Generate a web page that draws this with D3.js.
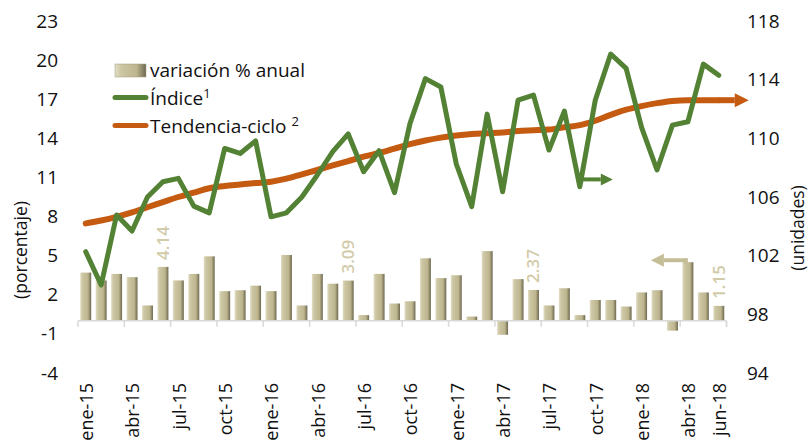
<!DOCTYPE html>
<html>
<head>
<meta charset="utf-8">
<script src="https://cdn.jsdelivr.net/npm/d3@7"></script>
<style>
  body { margin: 0; background: #fff; }
  svg { font-family: "Open Sans", Lato, sans-serif; }
</style>
</head>
<body>
<div id="chart"></div>
<script>
(function(){

var months = ["ene-15","feb-15","mar-15","abr-15","may-15","jun-15","jul-15","ago-15","sep-15","oct-15","nov-15","dic-15",
              "ene-16","feb-16","mar-16","abr-16","may-16","jun-16","jul-16","ago-16","sep-16","oct-16","nov-16","dic-16",
              "ene-17","feb-17","mar-17","abr-17","may-17","jun-17","jul-17","ago-17","sep-17","oct-17","nov-17","dic-17",
              "ene-18","feb-18","mar-18","abr-18","may-18","jun-18"];

// variación % anual (eje izquierdo)
var variacion = [3.7, 3.1, 3.6, 3.35, 1.18, 4.14, 3.1, 3.6, 4.95, 2.28, 2.35, 2.7,
                 2.28, 5.05, 1.18, 3.6, 2.85, 3.09, 0.44, 3.6, 1.33, 1.5, 4.8, 3.28,
                 3.5, 0.33, 5.35, -1.07, 3.2, 2.37, 1.18, 2.5, 0.44, 1.6, 1.6, 1.1,
                 2.18, 2.35, -0.75, 4.5, 2.18, 1.15];

// Índice (eje derecho)
var indice = [102.27, 100.0, 104.77, 103.68, 106.0, 107.04, 107.27, 105.38, 104.92, 109.31, 108.97, 109.83,
              104.65, 104.92, 106.0, 107.5, 109.1, 110.3, 107.72, 109.16, 106.3, 111.0, 114.07, 113.5,
              108.25, 105.34, 111.65, 106.36, 112.6, 112.95, 109.2, 111.86, 106.7, 112.6, 115.75, 114.77,
              110.75, 107.84, 110.9, 111.13, 115.06, 114.3];

// Tendencia-ciclo (eje derecho)
var tendencia = [104.2, 104.4, 104.65, 104.95, 105.3, 105.65, 106.0, 106.3, 106.6, 106.75, 106.85, 106.95,
                 107.04, 107.25, 107.55, 107.84, 108.15, 108.45, 108.75, 109.0, 109.3, 109.6, 109.85, 110.05,
                 110.2, 110.3, 110.35, 110.4, 110.5, 110.55, 110.6, 110.75, 110.9, 111.2, 111.6, 111.95,
                 112.2, 112.4, 112.55, 112.6, 112.6, 112.6];

var leftTicks = [-4, -1, 2, 5, 8, 11, 14, 17, 20, 23];
var rightTicks = [94, 98, 102, 106, 110, 114, 118];
var xLabels = ["ene-15","abr-15","jul-15","oct-15","ene-16","abr-16","jul-16","oct-16","ene-17","abr-17","jul-17","oct-17","ene-18","abr-18","jun-18"];
var labeled = ["jun-15","jun-16","jun-17","jun-18"];

var W = 812, H = 443;
var green = "#548235", orange = "#c55a11", tan = "#c4bd97";
var fs = 19;
var fmt = function(d) { return String(d); };

var svg = d3.select("#chart").append("svg")
    .attr("width", W).attr("height", H);

var defs = svg.append("defs");
var grad = defs.append("linearGradient").attr("id", "barGrad")
    .attr("x1", "0").attr("x2", "1").attr("y1", "0").attr("y2", "0");
grad.append("stop").attr("offset", "0%").attr("stop-color", "#e2dec6");
grad.append("stop").attr("offset", "20%").attr("stop-color", "#cdc6a3");
grad.append("stop").attr("offset", "70%").attr("stop-color", "#bcb58e");
grad.append("stop").attr("offset", "100%").attr("stop-color", "#6e6850");

var x = d3.scaleBand().domain(months).range([78, 726.5])
    .paddingInner(0.29).paddingOuter(0.145);
var xc = function(m) { return x(m) + x.bandwidth() / 2; };

var yL = d3.scaleLinear().domain([-4, 23]).range([373, 21]);
var yR = d3.scaleLinear().domain([94, 118]).range([373, 21]);

// left axis
var axL = svg.append("g").attr("transform", "translate(58,0)")
    .call(d3.axisLeft(yL).tickValues(leftTicks).tickFormat(fmt).tickSize(0).tickPadding(0));
axL.select(".domain").remove();
axL.selectAll("text").attr("font-size", fs).attr("fill", "#111").attr("font-family", "Open Sans");

// right axis
var axR = svg.append("g").attr("transform", "translate(747,0)")
    .call(d3.axisRight(yR).tickValues(rightTicks).tickFormat(fmt).tickSize(0).tickPadding(0));
axR.select(".domain").remove();
axR.selectAll("text").attr("font-size", fs).attr("fill", "#111").attr("font-family", "Open Sans");

// axis titles
svg.append("text").attr("transform", "translate(27,250) rotate(-90)")
    .attr("text-anchor", "middle").attr("font-size", 17.5).attr("fill", "#111")
    .text("(porcentaje)");
svg.append("text").attr("transform", "translate(804,228) rotate(-90)")
    .attr("text-anchor", "middle").attr("font-size", 17.5).attr("fill", "#111")
    .text("(unidades)");

// bars
svg.append("g").selectAll("rect")
    .data(variacion)
    .enter().append("rect")
      .attr("x", function(d, i) { return x(months[i]); })
      .attr("y", function(d) { return yL(Math.max(0, d)); })
      .attr("width", x.bandwidth())
      .attr("height", function(d) { return Math.abs(yL(d) - yL(0)); })
      .attr("fill", "url(#barGrad)");

// category baseline and ticks
var zeroY = yL(0);
svg.append("line").attr("x1", 78).attr("x2", 726.5).attr("y1", zeroY).attr("y2", zeroY)
    .attr("stroke", "#d9d9d9").attr("stroke-width", 1.5);
var tickIdx = d3.range(0, 43, 3).concat([42]);
svg.append("g").selectAll("line").data(tickIdx).enter().append("line")
    .attr("x1", function(i) { return 78 + i * x.step(); })
    .attr("x2", function(i) { return 78 + i * x.step(); })
    .attr("y1", zeroY).attr("y2", zeroY + 6)
    .attr("stroke", "#d9d9d9").attr("stroke-width", 1.5);

// x labels
svg.append("g").selectAll("text").data(xLabels).enter().append("text")
    .attr("transform", function(d) { return "translate(" + (xc(d) + 1) + ",383) rotate(-90)"; })
    .attr("text-anchor", "end").attr("dy", "0.35em")
    .attr("font-size", 18).attr("fill", "#111")
    .text(function(d) { return d; });

// value labels
svg.append("g").selectAll("text").data(labeled).enter().append("text")
    .attr("transform", function(d) {
      var v = variacion[months.indexOf(d)];
      return "translate(" + xc(d) + "," + (yL(v) - 7) + ") rotate(-90)";
    })
    .attr("dy", "0.35em").attr("font-size", 17).attr("font-weight", 600)
    .attr("fill", "#d2cba9")
    .text(function(d) { return variacion[months.indexOf(d)].toFixed(2); });

// lines
var lineI = d3.line().x(function(d, i) { return xc(months[i]); }).y(function(d) { return yR(d); });

svg.append("path").datum(tendencia)
    .attr("d", d3.line().curve(d3.curveMonotoneX)
      .x(function(d, i) { return xc(months[i]); }).y(function(d) { return yR(d); }))
    .attr("fill", "none").attr("stroke", orange).attr("stroke-width", 6)
    .attr("stroke-linecap", "round");

svg.append("path").datum(indice)
    .attr("d", lineI)
    .attr("fill", "none").attr("stroke", green).attr("stroke-width", 5)
    .attr("stroke-linejoin", "round").attr("stroke-linecap", "round");

// arrows
function arrow(x1, y1, x2, y2, color, w, head) {
  var g = svg.append("g");
  var ang = Math.atan2(y2 - y1, x2 - x1);
  var bx = x2 - Math.cos(ang) * head, by = y2 - Math.sin(ang) * head;
  g.append("line").attr("x1", x1).attr("y1", y1).attr("x2", bx).attr("y2", by)
    .attr("stroke", color).attr("stroke-width", w);
  var px = -Math.sin(ang) * head * 0.5, py = Math.cos(ang) * head * 0.5;
  g.append("path")
    .attr("d", "M" + x2 + "," + y2 + "L" + (bx + px) + "," + (by + py) + "L" + (bx - px) + "," + (by - py) + "Z")
    .attr("fill", color);
  return g;
}

var last = months[months.length - 1];
arrow(xc(last), yR(tendencia[tendencia.length - 1]), xc(last) + 30, yR(tendencia[tendencia.length - 1]), orange, 6, 14);

var sep17 = months.indexOf("sep-17");
arrow(xc(months[sep17]) + 2, yR(107.2), xc(months[sep17]) + 33, yR(107.2), green, 4, 12);

var abr18 = months.indexOf("abr-18");
var ta = arrow(xc(months[abr18]) - 2, yL(4.65), xc(months[abr18]) - 37, yL(4.65), tan, 4, 13);
ta.append("line")
    .attr("x1", xc(months[abr18]) - 2).attr("x2", xc(months[abr18]) - 2)
    .attr("y1", yL(4.65) - 2).attr("y2", yL(variacion[abr18]) + 2)
    .attr("stroke", tan).attr("stroke-width", 4);

// legend
var lg = svg.append("g");
lg.append("rect").attr("x", 115).attr("y", 64).attr("width", 31).attr("height", 13)
    .attr("fill", "url(#barGrad)").attr("stroke", "#a39d7c").attr("stroke-width", 0.5);
lg.append("line").attr("x1", 115).attr("x2", 146).attr("y1", 97.5).attr("y2", 97.5)
    .attr("stroke", green).attr("stroke-width", 5).attr("stroke-linecap", "round");
lg.append("line").attr("x1", 115).attr("x2", 146).attr("y1", 125.5).attr("y2", 125.5)
    .attr("stroke", orange).attr("stroke-width", 5).attr("stroke-linecap", "round");

lg.append("text").attr("x", 150).attr("y", 77).attr("font-size", fs).attr("fill", "#111")
    .text("variación % anual");
var t2 = lg.append("text").attr("x", 150).attr("y", 105).attr("font-size", fs).attr("fill", "#111");
t2.append("tspan").text("Índice");
t2.append("tspan").attr("dy", -7).attr("font-size", 13).text("1");
var t3 = lg.append("text").attr("x", 150).attr("y", 133).attr("font-size", fs).attr("fill", "#111");
t3.append("tspan").text("Tendencia-ciclo ");
t3.append("tspan").attr("dy", -7).attr("font-size", 13).text("2");

})()
</script>
</body>
</html>
